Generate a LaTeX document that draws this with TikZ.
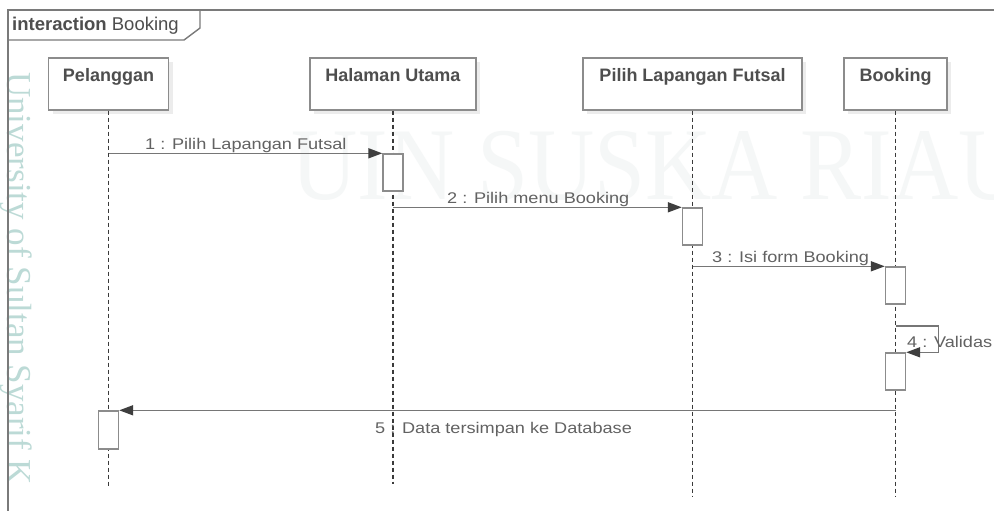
\documentclass[tikz,border=0pt]{standalone}
\usepackage{fontspec}
\setmainfont{Liberation Sans}
\newfontfamily\msgfont{Liberation Sans}[FakeStretch=1.17]
\newfontfamily\markfont{Liberation Serif}[FakeStretch=0.89]
\newfontfamily\sidefont{Liberation Serif}
\usetikzlibrary{arrows.meta,shadows}

\definecolor{framegray}{HTML}{7A7A7A}
\definecolor{boxgray}{HTML}{8C8C8C}
\definecolor{msggray}{HTML}{767676}
\definecolor{tipgray}{HTML}{3E3E3E}
\definecolor{lifegray}{HTML}{3A3A3A}
\definecolor{labelgray}{HTML}{626262}
\definecolor{headtext}{HTML}{4E4E4E}
\definecolor{markgray}{HTML}{F5F7F7}
\definecolor{sideteal}{HTML}{BCDAD6}

\tikzset{
  headbox/.style={draw=boxgray, line width=1.4pt, fill=white, minimum height=52pt,
    inner sep=0pt, drop shadow={shadow xshift=4pt, shadow yshift=-4pt, fill=black!12, opacity=0.6}},
  headlabel/.style={anchor=base, inner sep=0pt, text=headtext,
    font=\fontsize{18}{19}\selectfont\bfseries},
  actbox/.style={draw=boxgray, line width=1.4pt, fill=white, minimum width=20pt,
    minimum height=37pt, inner sep=0pt},
  lifeline/.style={draw=lifegray, line width=1.1pt, dash pattern=on 4pt off 3pt},
  msg/.style={draw=msggray, line width=1.6pt,
    -{Triangle[length=14pt,width=10pt,color=tipgray]}},
  msglabel/.style={anchor=base west, inner sep=0pt, text=labelgray,
    font=\msgfont\fontsize{15.5}{16}\selectfont},
  framebox/.style={draw=framegray, line width=1.4pt},
}

\begin{document}
\begin{tikzpicture}[x=1pt,y=-1pt]
\useasboundingbox (0,0) rectangle (994,511);
\clip (0,0) rectangle (994,511);
\fill[white] (0,0) rectangle (994,511);

% faint background marks
\node[anchor=base east, inner sep=0pt, text=markgray,
  font=\markfont\fontsize{103}{103}\selectfont] (mark) at (1025,199) {UIN SUSKA RIAU};
\node[rotate=-90, anchor=base west, inner sep=0pt, text=sideteal,
  font=\sidefont\fontsize{35}{35}\selectfont] (side) at (7,72) {University of Sultan Syarif K};

% outer frame and its title tab
\draw[framebox] (8,520) -- (8,10) -- (1000,10);
\draw[framebox] (8,40) -- (184,40) -- (200,28) -- (200,10);
\node[anchor=base west, inner sep=0pt, text=headtext,
  font=\fontsize{18.5}{19}\selectfont] (title) at (12,31)
  {\textbf{interaction} Booking};

% lifeline heads
\node[headbox, minimum width=120pt] (pel) at (108.5,84) {};
\node[headbox, minimum width=166pt] (hal) at (393,84) {};
\node[headbox, minimum width=219pt] (pil) at (692.5,84) {};
\node[headbox, minimum width=103pt] (boo) at (895.5,84) {};
\node[headlabel] (pelT) at ([yshift=-24pt]pel.north) {Pelanggan};
\node[headlabel] (halT) at ([yshift=-24pt]hal.north) {Halaman Utama};
\node[headlabel] (pilT) at ([yshift=-24pt]pil.north) {Pilih Lapangan Futsal};
\node[headlabel] (booT) at ([yshift=-24pt]boo.north) {Booking};

% lifeline ends
\coordinate (pelE) at (pel.south |- 0,487);
\coordinate (halE) at (hal.south |- 0,484);
\coordinate (pilE) at (pil.south |- 0,497);
\coordinate (booE) at (boo.south |- 0,497);
\draw[lifeline] (pel.south) -- (pelE);
\draw[lifeline] (hal.south) -- (halE);
\draw[lifeline] (pil.south) -- (pilE);
\draw[lifeline] (boo.south) -- (booE);

% activations
\node[actbox] (a1) at (393,172.5) {};
\node[actbox] (a2) at (692.5,226.5) {};
\node[actbox] (a3) at (895.5,285.5) {};
\node[actbox] (a4) at (895.5,371.5) {};
\node[actbox, minimum height=38pt] (a5) at (108.5,430) {};

% messages
\draw[msg] (pel.south |- a1.north) -- (a1.north west);
\node[msglabel] (m1) at (145,149) {1 : Pilih Lapangan Futsal};

\draw[msg] (hal.south |- a2.north) -- (a2.north west);
\node[msglabel] (m2) at (447,203) {2 : Pilih menu Booking};

\draw[msg] (pil.south |- a3.north) -- (a3.north west);
\node[msglabel] (m3) at (712,262) {3 : Isi form Booking};

\coordinate (s4) at (boo.south |- 0,326);
\draw[msg] (s4) -- ++(43,0) |- (a4.north east);
\node[msglabel] (m4) at (907,347) {4 : Validas};

\draw[msg] (boo.south |- a5.north) -- (a5.north east);
\node[msglabel] (m5) at (375,433) {5 : Data tersimpan ke Database};
\end{tikzpicture}
\end{document}
